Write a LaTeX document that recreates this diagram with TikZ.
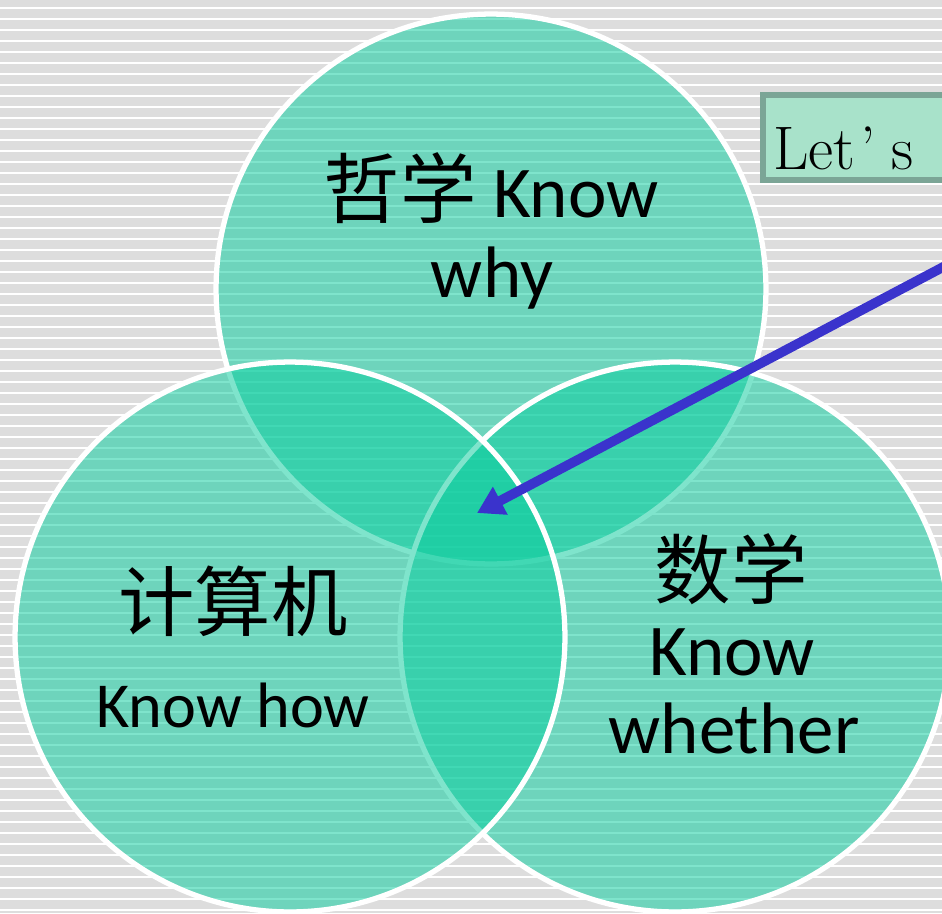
\documentclass[tikz,border=0pt]{standalone}
\usepackage{fontspec}
\newfontfamily\calibri{Carlito}
\newfontfamily\cjk{Noto Sans CJK SC}
\usetikzlibrary{arrows.meta}

\definecolor{bggray}{HTML}{DDDDDD}
\definecolor{venn}{RGB}{10,205,158}
\definecolor{boxfill}{HTML}{A8E2CA}
\definecolor{boxline}{HTML}{7BA596}
\definecolor{arrowblue}{HTML}{3A33CC}

\newcommand{\hanzi}[1]{{\cjk\fontsize{43.5}{50}\selectfont #1}}

\tikzset{
  stripe/.style={white, line width=1.3pt},
  set/.style={circle, draw=white, line width=3pt, fill=venn, fill opacity=0.52, minimum size=11cm},
  lab/.style={anchor=base, inner sep=0pt, font=\calibri\fontsize{41.5}{45}\selectfont},
  letbox/.style={draw=boxline, fill=boxfill, line width=3.8pt},
  pointer/.style={arrowblue, line width=5.5pt, -{Triangle[length=15pt, width=17pt]}}
}

\begin{document}
\begin{tikzpicture}[x=0.02cm, y=-0.02cm]
    % Frame and background
    \useasboundingbox (0,0) rectangle (942,913);
    \clip (0,0) rectangle (942,913);
    \fill[bggray] (0,0) rectangle (942,913);
    \foreach \k in {0,...,82}
        \draw[stripe] (0,{8.3+11*\k}) -- (942,{8.3+11*\k});

    % Sets
    \node[set] (why) at (491,289) {};
    \node[set] (whether) at (675,637) {};
    \node[set] (how) at (290,637) {};

    % Labels
    \node[lab] (whyA) at (491,217) {\hanzi{哲学} Know};
    \node[lab] (whyB) at (492,297) {why};
    \node[lab] (howA) at (233,630) {\hanzi{计算机}};
    \node[lab, font=\calibri\fontsize{36.5}{40}\selectfont] (howB) at (233,727) {Know how};
    \node[lab] (mathA) at (731,598) {\hanzi{数学}};
    \node[lab] (mathB) at (732,675) {Know};
    \node[lab] (mathC) at (734,753) {whether};

    % Callout
    \draw[letbox] (763,95) rectangle (1000,180);
    \node[anchor=base west, inner sep=0pt, font=\fontsize{35}{40}\selectfont] (lets) at (773,169) {Let\hspace{3pt}’\hspace{9pt}s};

    % Pointer
    \coordinate (from) at (1000,237);
    \coordinate (core) at (477,513);
    \draw[pointer] (from) -- (core);
\end{tikzpicture}
\end{document}
